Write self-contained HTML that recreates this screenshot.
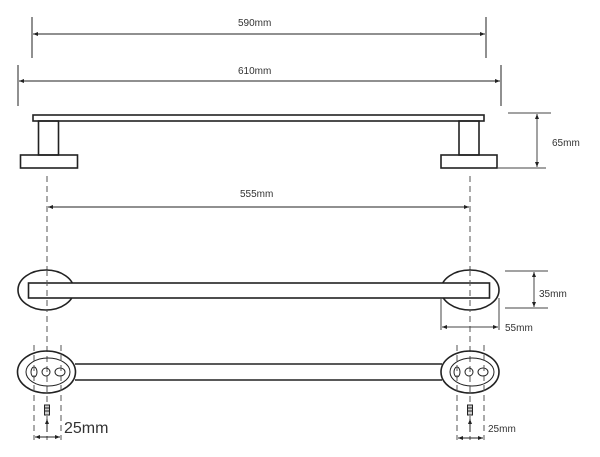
<!DOCTYPE html>
<html><head><style>
html,body{margin:0;padding:0;background:#fff;}
svg{display:block;}
text{font-family:"Liberation Sans",sans-serif;fill:#333;}
</style></head><body>
<svg width="600" height="457" viewBox="0 0 600 457" xmlns="http://www.w3.org/2000/svg">
<defs>
<marker id="a" markerWidth="6" markerHeight="6" refX="5" refY="3" orient="auto-start-reverse" markerUnits="userSpaceOnUse"><path d="M0,1 L5,3 L0,5 z" fill="#222"/></marker>
</defs>
<g stroke="#222" fill="none" stroke-width="1">
<!-- 590 -->
<line x1="32" y1="17" x2="32" y2="58"/>
<line x1="486" y1="17" x2="486" y2="58"/>
<line x1="33" y1="34" x2="485" y2="34" marker-start="url(#a)" marker-end="url(#a)"/>
<!-- 610 -->
<line x1="18" y1="65" x2="18" y2="106"/>
<line x1="501" y1="65" x2="501" y2="106"/>
<line x1="19" y1="81" x2="500" y2="81" marker-start="url(#a)" marker-end="url(#a)"/>
</g>
<text x="238" y="26" font-size="10">590mm</text>
<text x="238" y="74" font-size="10">610mm</text>

<!-- side view -->
<g stroke="#222" fill="none" stroke-width="1.6">
<rect x="33" y="115" width="451" height="6"/>
<rect x="38.5" y="121" width="20" height="34"/>
<rect x="20.5" y="155" width="57" height="13"/>
<rect x="459" y="121" width="20" height="34"/>
<rect x="441" y="155" width="56" height="13"/>
</g>
<g stroke="#444" stroke-width="1">
<line x1="508" y1="113" x2="551" y2="113"/>
<line x1="497" y1="168" x2="546" y2="168"/>
<line x1="537" y1="114" x2="537" y2="167" marker-start="url(#a)" marker-end="url(#a)"/>
</g>
<text x="552" y="146" font-size="10">65mm</text>

<!-- center dashes -->
<g stroke="#555" stroke-width="1" stroke-dasharray="6,4">
<line x1="47" y1="176" x2="47" y2="440"/>
<line x1="470" y1="176" x2="470" y2="440"/>
</g>
<line x1="48" y1="207" x2="469" y2="207" stroke="#222" marker-start="url(#a)" marker-end="url(#a)"/>
<text x="240" y="197" font-size="10">555mm</text>

<!-- top view -->
<g stroke="#222" fill="none" stroke-width="1.6">
<ellipse cx="46" cy="290" rx="28" ry="20" fill="#fff"/>
<ellipse cx="470" cy="290" rx="29" ry="20" fill="#fff"/>
<rect x="28.5" y="283" width="461" height="15" fill="#fff"/>
</g>
<g stroke="#555" stroke-width="1" stroke-dasharray="6,4">
<line x1="47" y1="270" x2="47" y2="312"/>
<line x1="470" y1="270" x2="470" y2="312"/>
</g>
<g stroke="#444" stroke-width="1">
<line x1="505" y1="271" x2="548" y2="271"/>
<line x1="505" y1="308" x2="548" y2="308"/>
<line x1="534" y1="272" x2="534" y2="307" marker-start="url(#a)" marker-end="url(#a)"/>
<line x1="441" y1="298" x2="441" y2="330"/>
<line x1="499" y1="298" x2="499" y2="330"/>
<line x1="442" y1="327" x2="498" y2="327" marker-start="url(#a)" marker-end="url(#a)"/>
</g>
<text x="539" y="297" font-size="10">35mm</text>
<text x="505" y="331" font-size="10">55mm</text>

<!-- bottom view -->
<g stroke="#222" fill="none" stroke-width="1.6">
<line x1="75" y1="364" x2="442" y2="364"/>
<line x1="75" y1="380" x2="442" y2="380"/>
<ellipse cx="46.5" cy="372" rx="29" ry="21"/>
<ellipse cx="470" cy="372" rx="29" ry="21"/>
</g>
<g stroke="#222" fill="none" stroke-width="1">
<ellipse cx="48" cy="372" rx="22" ry="14"/>
<ellipse cx="34" cy="372" rx="3" ry="5"/>
<circle cx="46" cy="372" r="4"/>
<ellipse cx="60" cy="372" rx="5" ry="4"/>
<ellipse cx="472" cy="372" rx="22" ry="14"/>
<ellipse cx="457" cy="372" rx="3" ry="5"/>
<circle cx="469" cy="372" r="4"/>
<ellipse cx="483" cy="372" rx="5" ry="4"/>
</g>
<g stroke="#555" stroke-width="1" stroke-dasharray="6,4">
<line x1="34" y1="345" x2="34" y2="440"/>
<line x1="61" y1="345" x2="61" y2="440"/>
<line x1="457" y1="345" x2="457" y2="440"/>
<line x1="484" y1="345" x2="484" y2="440"/>
</g>
<g stroke="#222" stroke-width="1">
<rect x="44.5" y="405" width="5" height="10" fill="#ccc"/>
<line x1="44.5" y1="408" x2="49.5" y2="408"/><line x1="44.5" y1="411" x2="49.5" y2="411"/>
<line x1="47" y1="432" x2="47" y2="419" marker-end="url(#a)"/>
<line x1="35" y1="437" x2="60" y2="437" marker-start="url(#a)" marker-end="url(#a)"/>
<rect x="467.5" y="405" width="5" height="10" fill="#ccc"/>
<line x1="467.5" y1="408" x2="472.5" y2="408"/><line x1="467.5" y1="411" x2="472.5" y2="411"/>
<line x1="470" y1="432" x2="470" y2="419" marker-end="url(#a)"/>
<line x1="458" y1="438" x2="483" y2="438" marker-start="url(#a)" marker-end="url(#a)"/>
</g>
<text x="64" y="433" font-size="16">25mm</text>
<text x="488" y="432" font-size="10">25mm</text>
</svg>
</body></html>
